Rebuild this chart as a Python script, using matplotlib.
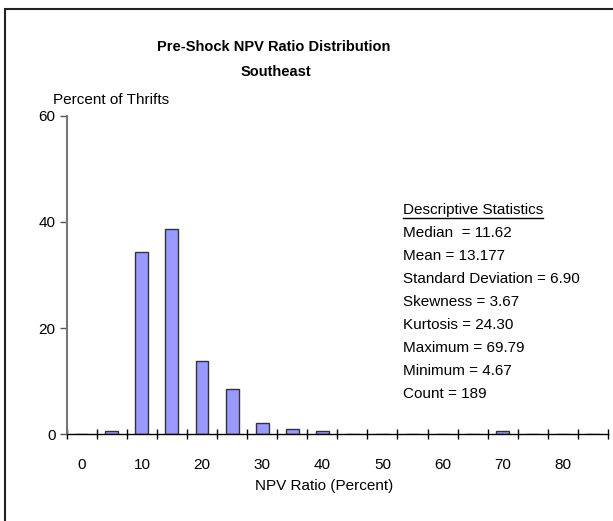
import matplotlib
matplotlib.use('Agg')
import matplotlib.pyplot as plt
from matplotlib.lines import Line2D
from matplotlib.patches import Rectangle

plt.rcParams['font.family'] = ['Liberation Sans', 'DejaVu Sans']

# histogram bins (NPV ratio, percent) and share of thrifts in each bin
bins = [0, 5, 10, 15, 20, 25, 30, 35, 40, 45, 50, 55, 60, 65, 70, 75, 80, 85]
pct = [0, 0.53, 34.39, 38.62, 13.76, 8.47, 2.12, 1.06, 0.53, 0, 0, 0, 0, 0, 0.53, 0, 0, 0]
x_labels = ['0', '10', '20', '30', '40', '50', '60', '70', '80']
y_ticks = [0, 20, 40, 60]

stats_title = 'Descriptive Statistics'
stats_lines = ['Median  = 11.62', 'Mean = 13.177', 'Standard Deviation = 6.90',
               'Skewness = 3.67', 'Kurtosis = 24.30', 'Maximum = 69.79',
               'Minimum = 4.67', 'Count = 189']

W, H = 613, 521
fig = plt.figure(figsize=(W / 100, H / 100), dpi=100)
ax = fig.add_axes([66.7 / W, 1 - 434.3 / H, (608 - 66.7) / W, (434.3 - 115.7) / H])

pos = list(range(len(bins)))
ax.bar(pos, pct, width=0.43, color='#9999ff', edgecolor='#333333', linewidth=1)

ax.set_xlim(-0.5, len(bins) - 0.5)
ax.set_ylim(0, 60)
ax.set_yticks(y_ticks)
ax.set_xticks(pos[::2])
ax.set_xticklabels(x_labels)
ax.set_xticks([p - 0.5 for p in pos] + [len(bins) - 0.5], minor=True)
ax.tick_params(axis='x', which='major', length=0, pad=17, labelsize=11)
ax.tick_params(axis='x', which='minor', direction='inout', length=7, width=1, color='black')
ax.tick_params(axis='y', which='major', length=5, width=1, color='#555555', labelsize=11, pad=3)

for s in ['top', 'right']:
    ax.spines[s].set_visible(False)
ax.spines['left'].set_color('#777777')
ax.spines['left'].set_linewidth(1.5)
ax.spines['bottom'].set_color('black')
ax.spines['bottom'].set_linewidth(1)
ax.spines['bottom'].set_zorder(3)

fig.text(324 / W, 1 - 486 / H, 'NPV Ratio (Percent)', ha='center', va='center', fontsize=11)

fig.text(274 / W, 1 - 47 / H, 'Pre-Shock NPV Ratio Distribution', ha='center', va='center',
         fontsize=10.5, fontweight='bold')
fig.text(276 / W, 1 - 72 / H, 'Southeast', ha='center', va='center',
         fontsize=10.5, fontweight='bold')
fig.text(53 / W, 1 - 100 / H, 'Percent of Thrifts', ha='left', va='center', fontsize=11)

x0 = 403 / W
y0 = 210
step = 23
t = fig.text(x0, 1 - y0 / H, stats_title, ha='left', va='center', fontsize=11)
for i, line in enumerate(stats_lines):
    fig.text(x0, 1 - (y0 + step * (i + 1)) / H, line, ha='left', va='center', fontsize=11)

# underline the stats heading
fig.canvas.draw()
bb = t.get_window_extent().transformed(fig.transFigure.inverted())
fig.add_artist(Line2D([bb.x0, bb.x1], [bb.y0 - 1 / H, bb.y0 - 1 / H], color='black', lw=1))

# outer frame, cut off on right and bottom like the source
fig.add_artist(Rectangle((5 / W, -0.1), 1.2, 1 - 9 / H + 0.1, transform=fig.transFigure,
                         fill=False, edgecolor='#222222', lw=1.5))

fig.savefig('out.png', dpi=100)
